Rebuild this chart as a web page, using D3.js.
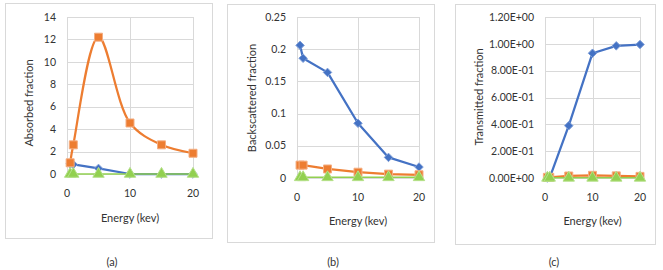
<!DOCTYPE html>
<html lang="en">
<head>
    <meta charset="UTF-8">
    <title>Energy fractions</title>
    <script src="https://cdn.jsdelivr.net/npm/d3@7"></script>
    <style>
        body { margin: 0; background: #fff; }
        text { font-family: Lato, "Open Sans", sans-serif; fill: #333; }
    </style>
</head>
<body>
<script>
    // data
    var energy = [0.5, 1, 5, 10, 15, 20];
    var xTicks = [0, 10, 20];

    var absorbedBlue = [0.9, 0.85, 0.5, 0, 0, 0];
    var absorbedOrange = [1.0, 2.6, 12.2, 4.55, 2.6, 1.85];
    var absorbedGreen = [0, 0, 0, 0, 0, 0];
    var absorbedTicks = [0, 2, 4, 6, 8, 10, 12, 14];

    var backBlue = [0.206, 0.186, 0.164, 0.085, 0.032, 0.017];
    var backOrange = [0.020, 0.020, 0.014, 0.009, 0.006, 0.005];
    var backGreen = [0.001, 0.001, 0.001, 0.001, 0.001, 0.001];
    var backTicks = [0, 0.05, 0.1, 0.15, 0.2, 0.25];

    var transBlue = [0, 0.002, 0.39, 0.93, 0.985, 0.995];
    var transOrange = [0.005, 0.005, 0.015, 0.02, 0.016, 0.012];
    var transGreen = [0.001, 0.001, 0.001, 0.001, 0.001, 0.001];
    var transTicks = [0, 0.2, 0.4, 0.6, 0.8, 1.0, 1.2];

    var blue = "#4472C4", orange = "#ED7D31", green = "#92D050", grid = "#D9D9D9";

    var svg = d3.select("body").append("svg")
        .attr("width", 663).attr("height", 270);

    function sci(v) {
        // 1.20E+00 style
        var s = v.toExponential(2).toUpperCase();
        var parts = s.split("E");
        var exp = parseInt(parts[1], 10);
        var sign = exp < 0 ? "-" : "+";
        var e = Math.abs(exp);
        return parts[0] + "E" + sign + (e < 10 ? "0" + e : e);
    }

    function panel(p) {
        var g = svg.append("g");

        // frame
        g.append("rect")
            .attr("x", p.box[0] + 0.5).attr("y", p.box[1] + 0.5)
            .attr("width", p.box[2] - p.box[0]).attr("height", p.box[3] - p.box[1])
            .attr("fill", "#fff").attr("stroke", grid);

        var x = d3.scaleLinear().domain([0, 20]).range([p.left, p.right]);
        var y = d3.scaleLinear().domain([p.ticks[0], p.ticks[p.ticks.length - 1]]).range([p.bottom, p.top]);

        // grid
        g.selectAll(".hg").data(p.ticks).enter().append("line")
            .attr("x1", p.left).attr("x2", p.right)
            .attr("y1", function (d) { return Math.round(y(d)) + 0.5; })
            .attr("y2", function (d) { return Math.round(y(d)) + 0.5; })
            .attr("stroke", grid).attr("stroke-width", 1);
        g.selectAll(".vg").data(xTicks).enter().append("line")
            .attr("y1", p.top).attr("y2", p.bottom)
            .attr("x1", function (d) { return Math.round(x(d)) + 0.5; })
            .attr("x2", function (d) { return Math.round(x(d)) + 0.5; })
            .attr("stroke", grid).attr("stroke-width", 1);

        // tick labels
        g.selectAll(".yl").data(p.ticks).enter().append("text")
            .attr("x", p.left - 11)
            .attr("y", function (d) { return y(d); })
            .attr("dy", "0.35em")
            .attr("text-anchor", "end")
            .attr("font-size", 10.5)
            .text(p.fmt);
        g.selectAll(".xl").data(xTicks).enter().append("text")
            .attr("x", function (d) { return x(d); })
            .attr("y", p.bottom + 19)
            .attr("dy", "0.35em")
            .attr("text-anchor", "middle")
            .attr("font-size", 10.5)
            .text(function (d) { return d; });

        // titles
        g.append("text")
            .attr("transform", "translate(" + p.ytx + "," + p.yty + ") rotate(-90)")
            .attr("text-anchor", "middle").attr("dy", "0.35em")
            .attr("font-size", 11)
            .text(p.ylabel);
        g.append("text")
            .attr("x", (p.left + p.right) / 2).attr("y", p.xty)
            .attr("text-anchor", "middle").attr("dy", "0.35em")
            .attr("font-size", 11)
            .text("Energy (kev)");
        g.append("text")
            .attr("x", p.capx).attr("y", 262)
            .attr("text-anchor", "middle").attr("dy", "0.35em")
            .attr("font-size", 11)
            .text(p.caption);

        // series
        p.series.forEach(function (s) {
            var pts = energy.map(function (e, i) { return [e, s.values[i]]; });
            var line = d3.line()
                .x(function (d) { return x(d[0]); })
                .y(function (d) { return y(d[1]); })
                .curve(s.smooth ? d3.curveCatmullRom.alpha(0.5) : d3.curveLinear);
            g.append("path").datum(pts)
                .attr("d", line)
                .attr("fill", "none")
                .attr("stroke", s.color)
                .attr("stroke-width", s.width || 2.25)
                .attr("stroke-linejoin", "round");
            g.selectAll(null).data(pts).enter().append("path")
                .attr("transform", function (d) { return "translate(" + x(d[0]) + "," + y(d[1]) + ")"; })
                .attr("d", d3.symbol().type(s.symbol).size(s.size))
                .attr("fill", s.color)
                .attr("stroke", s.stroke)
                .attr("stroke-width", 1);
        });
    }

    function mkSeries(b, o, gr, smoothOrange) {
        return [
            { values: b, color: blue, stroke: "#7F9FD8", symbol: d3.symbolDiamond2, size: 46 },
            { values: o, color: orange, stroke: "#F4AE82", symbol: d3.symbolSquare, size: 64, smooth: smoothOrange },
            { values: gr, color: green, stroke: "#B5E08A", symbol: d3.symbolTriangle, size: 56, width: 1.5 }
        ];
    }

    panel({
        box: [5, 3, 212, 238], left: 67, right: 193, top: 17, bottom: 174,
        ticks: absorbedTicks, fmt: function (d) { return d; },
        ylabel: "Absorbed fraction", ytx: 29, yty: 103, xty: 218,
        caption: "(a)", capx: 112,
        series: mkSeries(absorbedBlue, absorbedOrange, absorbedGreen, true)
    });
    panel({
        box: [227, 4, 434, 242], left: 297, right: 419, top: 17, bottom: 178,
        ticks: backTicks, fmt: function (d) { return d3.format("~g")(d); },
        ylabel: "Backscattered fraction", ytx: 252, yty: 98, xty: 221,
        caption: "(b)", capx: 333,
        series: mkSeries(backBlue, backOrange, backGreen, false)
    });
    panel({
        box: [455, 4, 655, 244], left: 545, right: 640, top: 17, bottom: 178,
        ticks: transTicks, fmt: sci,
        ylabel: "Transmitted fraction", ytx: 479, yty: 97, xty: 221,
        caption: "(c)", capx: 554,
        series: mkSeries(transBlue, transOrange, transGreen, false)
    });
</script>
</body>
</html>
